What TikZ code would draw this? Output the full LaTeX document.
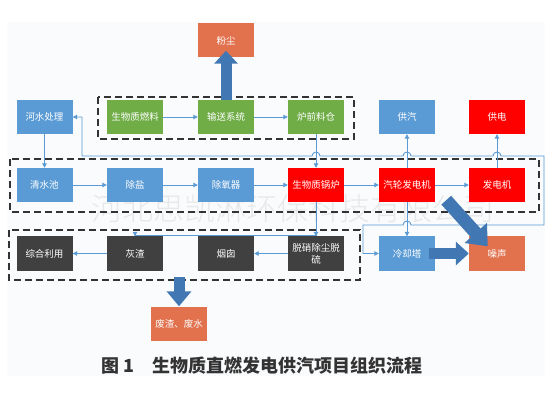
\documentclass[tikz,border=0pt]{standalone}
\usepackage{fontspec}
\setmainfont{Noto Sans CJK SC}
\usetikzlibrary{arrows.meta,calc}
\definecolor{cblue}{HTML}{5B9BD5}
\definecolor{cgreen}{HTML}{70AD47}
\definecolor{cred}{HTML}{FF0000}
\definecolor{cgray}{HTML}{404040}
\definecolor{corange}{HTML}{E2714E}
\definecolor{cline}{HTML}{5B9BD5}
\definecolor{cbig}{HTML}{4177B3}
\definecolor{cbg}{HTML}{FAFBFC}
\definecolor{cdash}{HTML}{333333}
\begin{document}
\begin{tikzpicture}[x=1pt,y=-1pt,
  box/.style={minimum width=56pt,minimum height=34pt,inner sep=1pt,text=white,
    font=\fontsize{9.5}{12}\selectfont,align=center},
  flow/.style={draw=cline,line width=0.9pt,-{Triangle[length=4.5pt,width=4.5pt]}},
  dashbox/.style={draw=cdash,line width=1.8pt,dash pattern=on 7pt off 4pt},
  big/.style={draw=cbig,line width=11pt,line cap=butt,-{Triangle[length=13pt,width=23pt]}}]
\useasboundingbox (0,0) rectangle (550,412);
\fill[cbg] (7,22) rectangle (545,376);

% watermark
\node[font=\fontsize{31}{31}\selectfont\ttfamily,text=gray!45,opacity=0.35] (wm) at (293,209) {\fontspec{Noto Sans CJK SC Light}河北思凯淋环保科技有限公司};

% row 1
\node[box,fill=corange] (fc) at (226,40.5) {粉尘};
\node[box,fill=cblue] (hs) at (44.5,117) {河水处理};
\node[box,fill=cgreen] (swz) at (135,117) {生物质燃料};
\node[box,fill=cgreen] (ssxt) at (226,117) {输送系统};
\node[box,fill=cgreen] (lq) at (316,117) {炉前料仓};
\node[box,fill=cblue] (gq) at (407,117) {供汽};
\node[box,fill=cred] (gd) at (497,117) {供电};
% row 2
\node[box,fill=cblue] (qs) at (44.5,185) {清水池};
\node[box,fill=cblue] (cy) at (135,185) {除盐};
\node[box,fill=cblue] (cyq) at (226,185) {除氧器};
\node[box,fill=cred] (gl) at (316,185) {生物质锅炉};
\node[box,fill=cred] (qlf) at (407,185) {汽轮发电机};
\node[box,fill=cred] (fdj) at (497,185) {发电机};
% row 3
\node[box,fill=cgray] (zh) at (44.5,253.5) {综合利用};
\node[box,fill=cgray] (hz) at (135,253.5) {灰渣};
\node[box,fill=cgray] (yc) at (226,253.5) {烟囱};
\node[box,fill=cgray] (tx) at (316,253.5) {脱硝除尘脱\\硫};
\node[box,fill=cblue] (lqt) at (407,253.5) {冷却塔};
\node[box,fill=corange] (zs) at (497,253.5) {噪声};
\node[box,fill=corange] (fs) at (179,323.5) {废渣、废水};

% dashed groups
\draw[dashbox] (98,97) rectangle (354,139);
\draw[dashbox] (10,159) rectangle (539,212);
\draw[dashbox] (9,230) rectangle (360,280);
\coordinate (dbot) at (179,277);

% flows
\draw[flow] (swz.east) -- (ssxt.west);
\draw[flow] (ssxt.east) -- (lq.west);
\draw[flow] (hs.south) -- (qs.north);
\draw[flow] (qs.east) -- (cy.west);
\draw[flow] (cy.east) -- (cyq.west);
\draw[flow] (cyq.east) -- (gl.west);
\draw[flow] (gl.east) -- (qlf.west);
\draw[flow] (qlf.east) -- (fdj.west);
\draw[flow] (lq.south) -- (gl.north);
\draw[flow] (qlf.north) -- (gq.south);
\draw[flow] (fdj.north) -- (gd.south);
\draw[flow] (qlf.south) -- (lqt.north);
\draw[flow] (gl.south) -- (tx.north);
\draw[flow] (gl.south) -- ++(0,33) -| (hz.north);
\draw[flow] (tx.west) -- (yc.east);
\draw[flow] (hz.west) -- (zh.east);
\draw[flow,{Triangle[length=4.5pt,width=4.5pt]}-{Triangle[length=4.5pt,width=4.5pt]}]
  (hs.east) -- (82,117) -- (82,156) -- (312,156)
  arc[start angle=180,end angle=0,radius=4pt] -- (403,156)
  arc[start angle=180,end angle=0,radius=4pt] -- (493,156)
  arc[start angle=180,end angle=0,radius=4pt] -- (544,156) -- (544,225) -- (411,225)
  arc[start angle=0,end angle=180,radius=4pt] -- (363,225) -- (363,253.5) -- (lqt.west);

% big arrows
\draw[big] (ssxt.north) -- ($(fc.south)+(0,-7)$);
\draw[big,-{Triangle[length=15pt,width=24pt]}] (dbot) -- (fs.north);
\draw[big] ($(lqt.east)+(-6,0)$) -- (zs.west);
\draw[big,line width=13pt,-{Triangle[length=18pt,width=29pt]}] ($(qlf.south east)+(11,-2)$) -- ($(zs.north west)+(19,10)$);

% caption
\node[anchor=west,font=\fontsize{18}{20}\selectfont\bfseries,text=black!80,inner sep=0pt] (cap) at (101,366) {图 1\hspace{18pt}生物质直燃发电供汽项目组织流程};
\end{tikzpicture}
\end{document}
